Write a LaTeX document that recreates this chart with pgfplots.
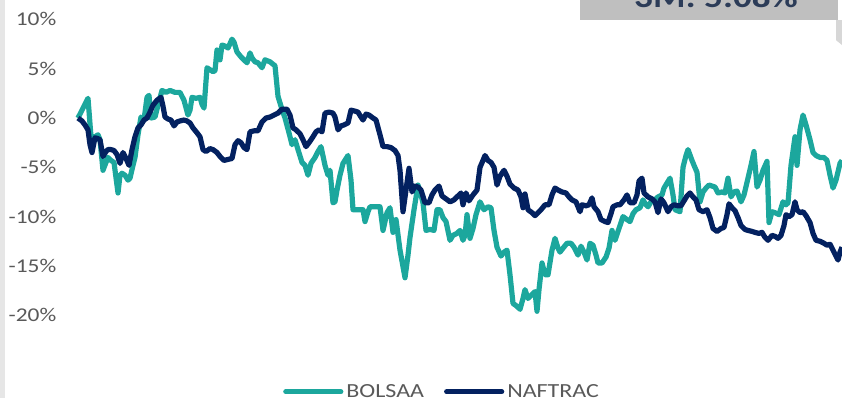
\documentclass[border=0pt]{standalone}
\usepackage{pgfplots}
\pgfplotsset{compat=1.18}
\usepackage{fontspec}
\setmainfont{Carlito}[FakeStretch=1.2]
\definecolor{teal1}{RGB}{28,167,157}
\definecolor{navy1}{RGB}{3,33,96}
\definecolor{labelgray}{RGB}{89,89,89}
\definecolor{boxgray}{RGB}{191,191,191}
\definecolor{boxtext}{RGB}{44,60,88}
\definecolor{stripgray}{RGB}{230,230,230}
\begin{document}
\begin{tikzpicture}
\begin{axis}[
  x=1pt, y=9.86pt,
  xmin=58, xmax=842, ymin=-28.36, ymax=11.97,
  clip=false,
  axis line style={draw=none},
  major tick length=0pt,
  xtick=\empty,
  ytick={-20,-15,-10,-5,0,5,10},
  yticklabels={-20\%,-15\%,-10\%,-5\%,0\%,5\%,10\%},
  yticklabel style={font=\fontsize{19.5}{19.5}\selectfont, text=labelgray, inner xsep=1.5pt},
  legend columns=2,
  legend style={draw=none, fill=none, inner sep=0pt, anchor=west,
    at={(0.2870,0.0149)}, font=\fontsize{20}{20}\selectfont, text=labelgray,
    /tikz/every even column/.append style={column sep=17pt},
    nodes={inner xsep=3pt, inner ysep=0pt}},
  legend image code/.code={\draw[#1, line cap=round] (0pt,0pt) -- (55pt,0pt);},
  every axis plot/.append style={line width=5.2pt, line join=round},
]
\coordinate (bl) at (axis cs:0,-28.36);
\coordinate (tr) at (axis cs:842,11.97);
\fill[stripgray] (axis cs:0,-28.36) rectangle (axis cs:5,11.97);
\fill[boxgray] (axis cs:580,12.5) rectangle (axis cs:838,9.94);
\fill[stripgray!85!gray] (axis cs:836,9.94) -- (axis cs:842,9.94) -- (axis cs:842,7.4) -- (axis cs:836,7.9) -- cycle;
\node[anchor=base, text=boxtext, font=\fontsize{31}{31}\selectfont\bfseries] at (axis cs:716,11.2) {3M: 5.08\%};

\addplot[teal1] coordinates {
(78,0) (83,1.0) (88,2.0) (91,-1.9) (95,-1.9) (98,-1.7) (100,-2.2) (103,-5.3) (106,-4.5) (108,-4.0)
(111,-4.3) (114,-4.5) (118,-7.6) (120,-5.8) (122,-5.6) (125,-5.8) (128,-6.3) (130,-6.1) (133,-4.8) (135,-4.0)
(138,-1.7) (141,0.1) (144,-0.2) (147,2.1) (149,2.3) (151,0) (155,0.1) (158,1.3) (162,2.8) (166,2.6)
(170,2.8) (175,2.6) (180,2.6) (184,1.8) (188,0.3) (190,0.8) (192,2.1) (196,2.0) (200,2.1) (202,1.4)
(204,1.0) (207,5.1) (210,4.9) (213,4.7) (215,4.8) (217,6.9) (220,5.9) (222,7.4) (225,7.3) (228,7.1)
(232,8.0) (234,7.7) (237,6.7) (241,6.2) (245,5.8) (247,5.6) (250,6.6) (252,6.1) (255,5.7) (258,5.6)
(262,5.1) (265,5.9) (270,5.7) (275,5.3) (278,2.2) (281,1.2) (285,0) (289,-1.5) (292,-2.7) (295,-2.2)
(298,-3.2) (302,-4.5) (305,-4.8) (308,-5.8) (311,-4.6) (315,-4.0) (318,-3.4) (321,-2.9) (325,-4.8) (328,-5.8)
(330,-5.3) (333,-8.6) (335,-8.5) (337,-7.3) (340,-5.8) (343,-4.6) (348,-3.8) (351,-6.3) (353,-9.3) (358,-9.3)
(363,-9.3) (365,-10.5) (368,-9.5) (370,-9.0) (375,-9.0) (380,-9.0) (383,-11.4) (387,-9.6) (390,-9.1) (393,-11.6)
(396,-10.3) (400,-13.4) (405,-16.2) (408,-13.9) (410,-12.1) (414,-9.3) (418,-6.8) (421,-7.8) (423,-8.6) (426,-11.4)
(430,-11.3) (434,-11.4) (437,-9.3) (440,-9.3) (443,-10.1) (446,-10.5) (450,-12.4) (453,-11.9) (457,-11.7) (460,-11.4)
(463,-12.4) (465,-11.9) (467,-9.8) (470,-12.2) (473,-11.2) (476,-9.8) (480,-8.5) (484,-9.3) (488,-9.0) (491,-9.1)
(494,-11.4) (497,-13.1) (501,-14.0) (504,-13.6) (507,-13.4) (510,-15.9) (513,-18.8) (517,-19.1) (520,-19.4) (523,-18.3)
(525,-17.4) (528,-18.3) (532,-17.9) (535,-17.6) (537,-19.6) (539,-17.4) (542,-14.7) (545,-15.9) (548,-15.9) (552,-13.4)
(555,-12.2) (558,-13.2) (560,-13.6) (563,-13.2) (567,-12.7) (571,-12.7) (574,-13.1) (578,-13.9) (581,-13.0) (584,-13.6)
(587,-14.4) (590,-12.7) (593,-12.9) (596,-13.9) (598,-14.7) (602,-14.7) (606,-14.1) (609,-13.2) (612,-11.4) (615,-12.4)
(619,-11.2) (623,-10.0) (627,-10.3) (630,-10.5) (633,-9.7) (636,-9.3) (640,-9.1) (643,-8.3) (646,-8.8) (648,-9.0)
(651,-8.5) (655,-8.3) (658,-8.0) (662,-7.8) (664,-7.1) (667,-6.6) (670,-6.1) (673,-7.8) (675,-9.3) (680,-9.5)
(683,-5.0) (686,-3.8) (688,-3.2) (692,-4.3) (694,-4.8) (697,-5.5) (700,-8.5) (703,-7.5) (706,-7.1) (709,-6.8)
(712,-6.9) (715,-7.0) (718,-7.6) (722,-7.5) (725,-7.6) (728,-6.1) (731,-8.0) (734,-7.5) (737,-7.4) (741,-8.5)
(744,-7.8) (748,-6.1) (751,-4.8) (754,-3.4) (757,-7.0) (760,-6.3) (763,-5.3) (767,-4.4) (769,-10.6) (772,-9.5)
(775,-9.6) (779,-9.8) (783,-8.5) (786,-8.8) (788,-8.6) (791,-4.8) (795,-1.9) (797,-4.8) (800,-1.2) (803,0.3)
(806,-0.7) (810,-2.2) (813,-3.5) (816,-3.8) (820,-4.0) (824,-4.0) (827,-4.3) (830,-5.8) (833,-7.1) (836,-6.3)
(840,-4.6) (842,-4.3)
};
\addlegendentry{BOLSAA}

\addplot[navy1] coordinates {
(78,0) (82,-0.3) (85,-0.7) (88,-1.2) (90,-2.7) (92,-3.5) (95,-2.0) (98,-2.1) (100,-2.2) (103,-3.9)
(106,-3.4) (108,-3.2) (111,-3.2) (114,-3.3) (117,-3.7) (120,-4.6) (123,-3.5) (126,-4.1) (129,-4.8) (132,-3.2)
(135,-1.9) (138,-1.0) (141,-0.7) (144,-0.2) (147,0) (150,0.6) (153,1.3) (157,1.8) (161,2.1) (163,1.2)
(165,0.1) (168,-0.1) (171,-0.2) (174,-0.8) (177,-0.4) (180,-0.3) (184,-0.2) (187,-0.3) (190,-0.5) (193,-1.0)
(197,-1.5) (200,-1.9) (203,-3.2) (206,-3.4) (210,-3.1) (213,-3.2) (217,-3.5) (220,-3.9) (224,-4.3) (228,-4.2)
(232,-4.1) (235,-2.7) (238,-2.3) (241,-2.5) (244,-3.0) (247,-3.2) (250,-1.4) (254,-1.3) (258,-1.3) (262,-0.4)
(266,0) (270,0.1) (274,0.3) (278,0.5) (282,0.9) (287,0.9) (290,0.3) (293,-1.0) (296,-1.2) (300,-1.6)
(303,-2.2) (306,-2.9) (309,-2.5) (313,-1.9) (316,-1.4) (319,-1.2) (322,-1.4) (325,0.5) (329,0.6) (333,0.5)
(335,0.1) (338,-1.2) (341,-0.8) (344,-0.7) (348,-0.5) (351,0.8) (355,0.7) (358,0.6) (361,0.1) (363,-0.2)
(366,0.4) (369,0.3) (373,0) (376,-0.2) (380,-1.7) (383,-2.9) (387,-2.9) (391,-3.0) (395,-3.3) (398,-3.8)
(400,-5.3) (403,-9.5) (406,-7.3) (409,-5.1) (412,-7.5) (415,-6.9) (418,-7.0) (421,-7.3) (425,-8.6) (429,-8.6)
(432,-7.8) (435,-7.3) (439,-6.9) (442,-7.9) (446,-8.2) (450,-8.5) (454,-8.3) (458,-7.9) (461,-7.6) (463,-8.8)
(466,-7.6) (469,-8.4) (473,-7.8) (477,-7.3) (480,-5.0) (483,-4.3) (485,-3.8) (488,-4.3) (491,-4.5) (494,-5.0)
(497,-6.8) (500,-5.9) (504,-5.3) (507,-5.9) (510,-6.7) (514,-7.1) (518,-7.3) (521,-8.0) (523,-9.1) (525,-7.7)
(528,-9.3) (532,-9.6) (535,-9.9) (538,-9.6) (541,-9.3) (545,-8.8) (549,-8.8) (552,-7.8) (555,-7.1) (558,-7.3)
(562,-7.5) (566,-7.6) (569,-8.0) (572,-8.3) (576,-8.5) (580,-9.5) (582,-8.8) (586,-8.9) (589,-8.8) (592,-8.1)
(594,-9.0) (598,-9.5) (601,-10.3) (605,-10.5) (608,-10.6) (611,-9.7) (613,-9.0) (617,-8.8) (620,-8.8) (624,-8.3)
(627,-7.8) (630,-8.6) (634,-8.6) (637,-7.8) (639,-6.4) (642,-6.1) (644,-7.6) (648,-8.0) (652,-8.2) (655,-8.5)
(658,-9.6) (661,-8.2) (664,-8.6) (668,-9.5) (671,-9.0) (674,-8.8) (678,-8.9) (681,-8.9) (684,-8.4) (687,-7.9)
(690,-7.6) (693,-8.0) (696,-8.3) (699,-9.3) (703,-9.5) (707,-9.3) (710,-10.1) (713,-11.2) (717,-11.5) (721,-11.2)
(724,-11.1) (727,-9.8) (729,-8.7) (732,-9.1) (735,-9.4) (738,-10.1) (741,-10.9) (745,-11.3) (748,-11.4) (752,-11.5)
(755,-11.6) (759,-11.7) (762,-11.6) (765,-12.1) (768,-12.4) (772,-11.9) (775,-12.0) (778,-12.2) (781,-11.9) (784,-10.9)
(786,-9.8) (789,-10.0) (792,-9.8) (795,-8.5) (797,-9.3) (800,-9.6) (803,-9.5) (806,-9.9) (810,-10.6) (813,-11.7)
(816,-12.4) (820,-12.5) (824,-12.7) (827,-12.9) (830,-12.8) (833,-13.4) (836,-14.0) (838,-14.4) (840,-13.6) (842,-13.1)
};
\addlegendentry{NAFTRAC}
\end{axis}
\pgfresetboundingbox
\useasboundingbox (bl) rectangle (tr);
\end{tikzpicture}
\end{document}
